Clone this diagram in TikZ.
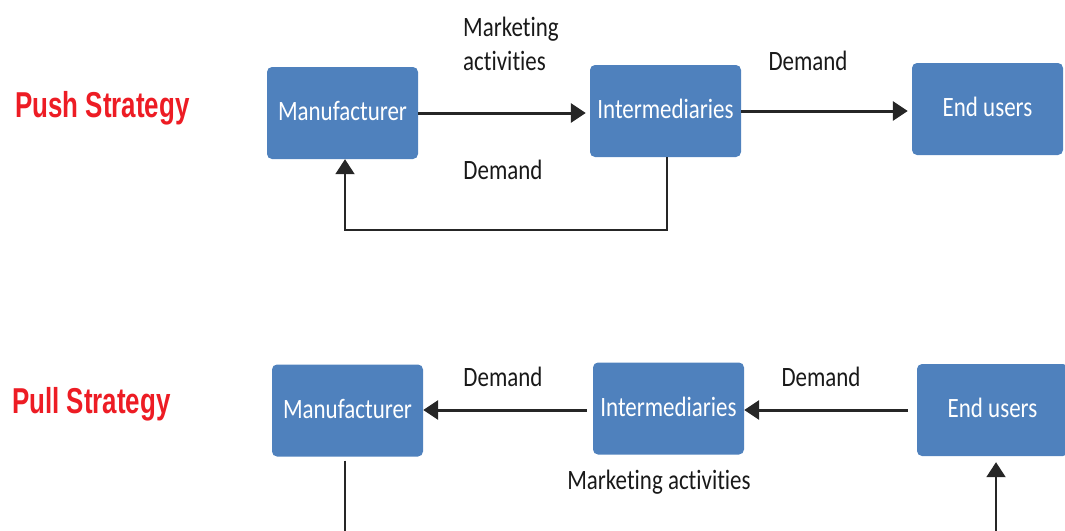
\documentclass[tikz,border=0pt]{standalone}
\usepackage{fontspec}
\setmainfont{Carlito}[Ligatures={NoCommon}]
\newfontfamily\arialfont{Liberation Sans}
\usetikzlibrary{arrows.meta}
\definecolor{boxblue}{RGB}{79,129,189}
\definecolor{titlered}{RGB}{237,28,36}
\newcommand{\nar}[1]{\scalebox{0.82}[1]{#1}}
\newcommand{\narT}[1]{\scalebox{0.72}[1]{#1}}
\tikzset{
  box/.style={fill=boxblue, rounded corners=5pt, minimum width=151pt, minimum height=92pt,
    inner sep=0pt, text=white, font=\fontsize{28}{32}\selectfont},
  boxtext/.style={text=white, font=\fontsize{28}{32}\selectfont, inner sep=0pt},
  lbl/.style={font=\fontsize{28}{34}\selectfont, text=black!90, inner sep=0pt},
  title/.style={font=\arialfont\bfseries\fontsize{36}{40}\selectfont, text=titlered,
    inner sep=0pt, anchor=base west},
  tip/.style={-{Triangle[length=15pt,width=19pt]}},
  flow/.style={line width=3pt, draw=black!85, tip},
  loopline/.style={line width=2pt, draw=black!85},
}
\begin{document}
\begin{tikzpicture}[x=1pt,y=-1pt]
\useasboundingbox (0,0) rectangle (1065,530);
\clip (0,0) rectangle (1065,530);
% titles
\node[title] (push) at (15,117) {\narT{Push Strategy}};
\node[title] (pull) at (12,413) {\narT{Pull Strategy}};
% push row
\node[box] (pm) at (342.5,113) {};
\node[box] (pi) at (665.5,111) {};
\node[box] (pe) at (987.5,109) {};
\node[boxtext] (pmt) at ([yshift=2pt]pm.center) {\nar{Manufacturer}};
\node[boxtext] (pit) at ([yshift=2pt]pi.center) {\nar{Intermediaries}};
\node[boxtext] (pet) at ([yshift=2pt]pe.center) {\nar{End users}};
\draw[flow, shorten >=4pt] (pm.east) -- (pi.west |- pm.east);
\draw[flow, shorten >=4pt] (pi.east) -- (pe.west |- pi.east);
\coordinate (fbr) at (667,230);
\coordinate (fbl) at (345,230);
\draw[loopline, tip] (pi.south -| fbr) -- (fbr) -- (fbl) -- (pm.south -| fbl);
\node[lbl, anchor=west, align=left] (ma1) at (463,44) {\nar{Marketing}\\\nar{activities}};
\node[lbl] (d1) at (503,170) {\nar{Demand}};
\node[lbl] (d2) at (808,61) {\nar{Demand}};
% pull row
\node[box] (mm) at (347.5,410.5) {};
\node[box] (mi) at (668.5,408.5) {};
\node[box] (me) at (992.5,410) {};
\node[boxtext] (mmt) at ([yshift=2pt]mm.center) {\nar{Manufacturer}};
\node[boxtext] (mit) at ([yshift=2pt]mi.center) {\nar{Intermediaries}};
\node[boxtext] (met) at ([yshift=2pt]me.center) {\nar{End users}};
\draw[flow, shorten <=6pt] (mi.west |- 0,410) -- (mm.east |- 0,410);
\draw[flow, shorten <=9pt] (me.west |- 0,410) -- (mi.east |- 0,410);
\node[lbl] (d3) at (503,377) {\nar{Demand}};
\node[lbl] (d4) at (821,377) {\nar{Demand}};
\node[lbl] (ma2) at (659,482) {\nar{Marketing activities}};
\coordinate (mb) at (345,532);
\coordinate (eb) at (996,532);
\draw[loopline, shorten <=4pt] (mm.south -| mb) -- (mb);
\draw[loopline, tip, shorten >=6pt] (eb) -- (me.south -| eb);
\end{tikzpicture}
\end{document}
